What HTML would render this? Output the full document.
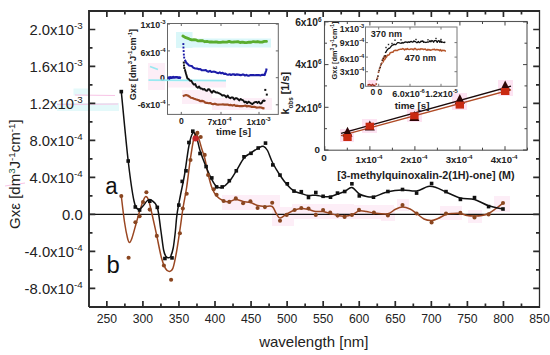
<!DOCTYPE html>
<html><head><meta charset="utf-8"><style>
html,body{margin:0;padding:0;background:#fff;}
svg{display:block;}
text{font-family:"Liberation Sans", sans-serif;}
</style></head><body>
<svg width="550" height="355" viewBox="0 0 550 355">
<rect x="0" y="0" width="550" height="355" fill="#fff"/>
<rect x="57" y="103" width="62" height="8" fill="#e4f9fa"/>
<rect x="73.5" y="88.5" width="15" height="7" fill="#e4f9fa"/>
<rect x="148" y="63" width="17" height="27" fill="#fdeef7"/>
<rect x="222" y="195" width="58" height="15" fill="#fdeef7"/>
<rect x="272" y="207" width="22" height="19" fill="#fdeef7"/>
<rect x="292" y="204" width="62" height="15" fill="#fdeef7"/>
<rect x="354" y="205" width="40" height="14" fill="#fdeef7"/>
<rect x="381" y="207" width="14" height="14" fill="#fdeef7"/>
<rect x="397" y="199" width="12" height="12" fill="#fdeef7"/>
<rect x="440" y="206" width="22" height="14" fill="#fdeef7"/>
<rect x="468" y="210" width="14" height="13" fill="#fdeef7"/>
<rect x="494" y="196" width="16" height="16" fill="#fdeef7"/>
<path d="M75,95 L115,95.5 M57,104.5 L118,104 M5,186 L25,183" stroke="#f8c4e6" stroke-width="1" fill="none"/>
<line x1="89.0" y1="214.4" x2="539.5" y2="214.4" stroke="#111" stroke-width="1.1"/>
<path d="M121.30,196.10 C121.83,200.42 123.47,215.02 124.50,222.00 C125.53,228.98 126.67,234.58 127.50,238.00 C128.33,241.42 128.75,242.50 129.50,242.50 C130.25,242.50 130.92,241.08 132.00,238.00 C133.08,234.92 134.67,228.67 136.00,224.00 C137.33,219.33 138.75,214.00 140.00,210.00 C141.25,206.00 142.53,202.25 143.50,200.00 C144.47,197.75 144.97,196.50 145.80,196.50 C146.63,196.50 147.47,197.08 148.50,200.00 C149.53,202.92 150.62,208.02 152.00,214.00 C153.38,219.98 155.22,228.57 156.80,235.90 C158.38,243.23 160.05,252.57 161.50,258.00 C162.95,263.43 164.18,266.27 165.50,268.50 C166.82,270.73 168.15,271.48 169.40,271.40 C170.65,271.32 171.82,271.23 173.00,268.00 C174.18,264.77 175.35,258.33 176.50,252.00 C177.65,245.67 178.82,237.33 179.90,230.00 C180.98,222.67 181.87,215.17 183.00,208.00 C184.13,200.83 185.45,195.33 186.70,187.00 C187.95,178.67 189.15,166.75 190.50,158.00 C191.85,149.25 193.47,137.83 194.80,134.50 C196.13,131.17 197.38,135.75 198.50,138.00 C199.62,140.25 200.47,144.67 201.50,148.00 C202.53,151.33 203.60,153.67 204.70,158.00 C205.80,162.33 206.88,169.00 208.10,174.00 C209.32,179.00 210.58,184.33 212.00,188.00 C213.42,191.67 214.67,193.83 216.60,196.00 C218.53,198.17 221.48,200.08 223.60,201.00 C225.72,201.92 227.27,201.75 229.30,201.50 C231.33,201.25 233.50,199.50 235.80,199.50 C238.10,199.50 240.67,201.00 243.10,201.50 C245.53,202.00 247.98,201.83 250.40,202.50 C252.82,203.17 255.18,204.83 257.60,205.50 C260.02,206.17 262.47,206.33 264.90,206.50 C267.33,206.67 270.35,205.42 272.20,206.50 C274.05,207.58 274.70,211.08 276.00,213.00 C277.30,214.92 278.22,217.83 280.00,218.00 C281.78,218.17 284.27,215.33 286.70,214.00 C289.13,212.67 292.17,210.92 294.60,210.00 C297.03,209.08 298.98,208.58 301.30,208.50 C303.62,208.42 306.08,209.00 308.50,209.50 C310.92,210.00 313.37,211.17 315.80,211.50 C318.23,211.83 320.70,211.17 323.10,211.50 C325.50,211.83 327.78,212.83 330.20,213.50 C332.62,214.17 335.20,215.05 337.60,215.50 C340.00,215.95 342.22,216.32 344.60,216.20 C346.98,216.08 349.50,215.67 351.90,214.80 C354.30,213.93 356.57,211.55 359.00,211.00 C361.43,210.45 364.02,211.17 366.50,211.50 C368.98,211.83 370.33,212.62 373.90,213.00 C377.47,213.38 384.38,214.38 387.90,213.80 C391.42,213.22 392.57,210.63 395.00,209.50 C397.43,208.37 400.00,207.08 402.50,207.00 C405.00,206.92 407.65,207.92 410.00,209.00 C412.35,210.08 414.27,211.83 416.60,213.50 C418.93,215.17 421.50,217.83 424.00,219.00 C426.50,220.17 429.27,220.58 431.60,220.50 C433.93,220.42 435.60,219.50 438.00,218.50 C440.40,217.50 443.50,215.33 446.00,214.50 C448.50,213.67 450.60,213.67 453.00,213.50 C455.40,213.33 458.07,213.17 460.40,213.50 C462.73,213.83 464.65,215.08 467.00,215.50 C469.35,215.92 472.00,216.00 474.50,216.00 C477.00,216.00 479.65,215.92 482.00,215.50 C484.35,215.08 486.27,214.67 488.60,213.50 C490.93,212.33 493.60,210.25 496.00,208.50 C498.40,206.75 501.83,203.92 503.00,203.00" fill="none" stroke="#9a4722" stroke-width="1.5"/>
<path d="M121.30,91.60 C122.45,103.17 126.08,142.77 128.20,161.00 C130.32,179.23 132.28,192.92 134.00,201.00 C135.72,209.08 137.00,208.67 138.50,209.50 C140.00,210.33 141.58,207.42 143.00,206.00 C144.42,204.58 145.67,202.03 147.00,201.00 C148.33,199.97 149.28,198.73 151.00,199.80 C152.72,200.87 155.67,202.37 157.30,207.40 C158.93,212.43 159.75,222.90 160.80,230.00 C161.85,237.10 162.73,245.58 163.60,250.00 C164.47,254.42 165.22,255.20 166.00,256.50 C166.78,257.80 167.53,257.80 168.30,257.80 C169.07,257.80 169.78,258.13 170.60,256.50 C171.42,254.87 172.42,252.08 173.20,248.00 C173.98,243.92 174.67,237.60 175.30,232.00 C175.93,226.40 176.13,220.57 177.00,214.40 C177.87,208.23 179.25,201.57 180.50,195.00 C181.75,188.43 183.10,183.17 184.50,175.00 C185.90,166.83 187.52,153.00 188.90,146.00 C190.28,139.00 191.53,134.50 192.80,133.00 C194.07,131.50 195.30,134.08 196.50,137.00 C197.70,139.92 198.40,145.50 200.00,150.50 C201.60,155.50 204.13,162.17 206.10,167.00 C208.07,171.83 210.05,176.25 211.80,179.50 C213.55,182.75 214.87,185.22 216.60,186.50 C218.33,187.78 220.08,188.03 222.20,187.20 C224.32,186.37 226.95,184.23 229.30,181.50 C231.65,178.77 233.85,174.72 236.30,170.80 C238.75,166.88 241.58,160.97 244.00,158.00 C246.42,155.03 248.47,154.62 250.80,153.00 C253.13,151.38 255.92,149.43 258.00,148.30 C260.08,147.17 261.72,145.83 263.30,146.20 C264.88,146.57 265.97,147.78 267.50,150.50 C269.03,153.22 270.45,158.42 272.50,162.50 C274.55,166.58 277.33,171.25 279.80,175.00 C282.27,178.75 284.93,182.33 287.30,185.00 C289.67,187.67 291.67,189.58 294.00,191.00 C296.33,192.42 298.88,192.75 301.30,193.50 C303.72,194.25 306.08,195.22 308.50,195.50 C310.92,195.78 313.37,195.03 315.80,195.20 C318.23,195.37 320.65,196.28 323.10,196.50 C325.55,196.72 328.10,196.92 330.50,196.50 C332.90,196.08 335.13,194.83 337.50,194.00 C339.87,193.17 342.30,192.58 344.70,191.50 C347.10,190.42 349.47,187.08 351.90,187.50 C354.33,187.92 356.87,192.50 359.30,194.00 C361.73,195.50 364.13,196.03 366.50,196.50 C368.87,196.97 369.93,197.58 373.50,196.80 C377.07,196.02 383.07,192.93 387.90,191.80 C392.73,190.67 397.72,190.13 402.50,190.00 C407.28,189.87 412.35,191.58 416.60,191.00 C420.85,190.42 424.77,187.08 428.00,186.50 C431.23,185.92 433.00,186.58 436.00,187.50 C439.00,188.42 441.93,190.25 446.00,192.00 C450.07,193.75 455.65,196.75 460.40,198.00 C465.15,199.25 469.80,198.20 474.50,199.50 C479.20,200.80 483.85,204.22 488.60,205.80 C493.35,207.38 500.60,208.47 503.00,209.00" fill="none" stroke="#111" stroke-width="1.5"/>
<ellipse cx="195.6" cy="138.6" rx="3.2" ry="3.0" fill="#c4262a"/>
<circle cx="121.3" cy="196.1" r="2.05" fill="#8a4620"/>
<circle cx="128.6" cy="257.7" r="2.05" fill="#8a4620"/>
<circle cx="135.4" cy="222.3" r="2.05" fill="#8a4620"/>
<circle cx="139.6" cy="216.3" r="2.05" fill="#8a4620"/>
<circle cx="143.0" cy="202.0" r="2.05" fill="#8a4620"/>
<circle cx="146.4" cy="192.2" r="2.05" fill="#8a4620"/>
<circle cx="149.7" cy="209.6" r="2.05" fill="#8a4620"/>
<circle cx="156.8" cy="235.9" r="2.05" fill="#8a4620"/>
<circle cx="163.9" cy="265.5" r="2.05" fill="#8a4620"/>
<circle cx="171.1" cy="279.8" r="2.05" fill="#8a4620"/>
<circle cx="179.9" cy="233.3" r="2.05" fill="#8a4620"/>
<circle cx="182.8" cy="208.5" r="2.05" fill="#8a4620"/>
<circle cx="186.7" cy="193.8" r="2.05" fill="#8a4620"/>
<circle cx="190.5" cy="160.0" r="2.05" fill="#8a4620"/>
<circle cx="197.4" cy="132.9" r="2.05" fill="#8a4620"/>
<circle cx="200.7" cy="137.0" r="2.05" fill="#8a4620"/>
<circle cx="204.7" cy="154.9" r="2.05" fill="#8a4620"/>
<circle cx="208.1" cy="175.0" r="2.05" fill="#8a4620"/>
<circle cx="213.7" cy="189.2" r="2.05" fill="#8a4620"/>
<circle cx="216.6" cy="194.8" r="2.05" fill="#8a4620"/>
<circle cx="223.6" cy="201.0" r="2.05" fill="#8a4620"/>
<circle cx="229.3" cy="201.9" r="2.05" fill="#8a4620"/>
<circle cx="235.8" cy="198.4" r="2.05" fill="#8a4620"/>
<circle cx="243.1" cy="203.3" r="2.05" fill="#8a4620"/>
<circle cx="250.4" cy="201.3" r="2.05" fill="#8a4620"/>
<circle cx="257.6" cy="208.0" r="2.05" fill="#8a4620"/>
<circle cx="264.9" cy="207.1" r="2.05" fill="#8a4620"/>
<circle cx="272.2" cy="202.7" r="2.05" fill="#8a4620"/>
<circle cx="280.0" cy="220.8" r="2.05" fill="#8a4620"/>
<circle cx="286.7" cy="214.9" r="2.05" fill="#8a4620"/>
<circle cx="294.6" cy="210.0" r="2.05" fill="#8a4620"/>
<circle cx="301.3" cy="208.0" r="2.05" fill="#8a4620"/>
<circle cx="308.5" cy="208.5" r="2.05" fill="#8a4620"/>
<circle cx="315.8" cy="214.9" r="2.05" fill="#8a4620"/>
<circle cx="323.1" cy="210.0" r="2.05" fill="#8a4620"/>
<circle cx="330.2" cy="212.5" r="2.05" fill="#8a4620"/>
<circle cx="337.6" cy="215.6" r="2.05" fill="#8a4620"/>
<circle cx="344.6" cy="216.9" r="2.05" fill="#8a4620"/>
<circle cx="351.9" cy="215.0" r="2.05" fill="#8a4620"/>
<circle cx="359.0" cy="209.9" r="2.05" fill="#8a4620"/>
<circle cx="373.9" cy="212.5" r="2.05" fill="#8a4620"/>
<circle cx="387.9" cy="215.4" r="2.05" fill="#8a4620"/>
<circle cx="402.5" cy="205.1" r="2.05" fill="#8a4620"/>
<circle cx="416.6" cy="213.5" r="2.05" fill="#8a4620"/>
<circle cx="431.6" cy="222.5" r="2.05" fill="#8a4620"/>
<circle cx="446.0" cy="213.5" r="2.05" fill="#8a4620"/>
<circle cx="460.4" cy="212.9" r="2.05" fill="#8a4620"/>
<circle cx="474.5" cy="217.4" r="2.05" fill="#8a4620"/>
<circle cx="488.6" cy="214.4" r="2.05" fill="#8a4620"/>
<circle cx="503.0" cy="203.0" r="2.05" fill="#8a4620"/>
<rect x="119.5" y="89.8" width="3.6" height="3.6" fill="#111"/>
<rect x="126.4" y="159.2" width="3.6" height="3.6" fill="#111"/>
<rect x="133.5" y="205.2" width="3.6" height="3.6" fill="#111"/>
<rect x="137.8" y="208.2" width="3.6" height="3.6" fill="#111"/>
<rect x="148.0" y="199.4" width="3.6" height="3.6" fill="#111"/>
<rect x="155.5" y="205.6" width="3.6" height="3.6" fill="#111"/>
<rect x="163.1" y="256.7" width="3.6" height="3.6" fill="#111"/>
<rect x="170.2" y="256.1" width="3.6" height="3.6" fill="#111"/>
<rect x="177.0" y="203.3" width="3.6" height="3.6" fill="#111"/>
<rect x="180.4" y="179.6" width="3.6" height="3.6" fill="#111"/>
<rect x="184.2" y="169.0" width="3.6" height="3.6" fill="#111"/>
<rect x="187.1" y="140.7" width="3.6" height="3.6" fill="#111"/>
<rect x="191.0" y="129.4" width="3.6" height="3.6" fill="#111"/>
<rect x="198.2" y="151.7" width="3.6" height="3.6" fill="#111"/>
<rect x="204.3" y="164.8" width="3.6" height="3.6" fill="#111"/>
<rect x="210.0" y="176.1" width="3.6" height="3.6" fill="#111"/>
<rect x="214.8" y="185.1" width="3.6" height="3.6" fill="#111"/>
<rect x="220.4" y="185.1" width="3.6" height="3.6" fill="#111"/>
<rect x="227.5" y="178.9" width="3.6" height="3.6" fill="#111"/>
<rect x="234.5" y="169.0" width="3.6" height="3.6" fill="#111"/>
<rect x="242.2" y="155.0" width="3.6" height="3.6" fill="#111"/>
<rect x="249.2" y="151.5" width="3.6" height="3.6" fill="#111"/>
<rect x="256.4" y="146.2" width="3.6" height="3.6" fill="#111"/>
<rect x="263.7" y="141.3" width="3.6" height="3.6" fill="#111"/>
<rect x="271.0" y="163.1" width="3.6" height="3.6" fill="#111"/>
<rect x="278.2" y="173.3" width="3.6" height="3.6" fill="#111"/>
<rect x="285.5" y="182.0" width="3.6" height="3.6" fill="#111"/>
<rect x="292.2" y="189.3" width="3.6" height="3.6" fill="#111"/>
<rect x="299.5" y="189.9" width="3.6" height="3.6" fill="#111"/>
<rect x="306.7" y="195.7" width="3.6" height="3.6" fill="#111"/>
<rect x="314.0" y="190.7" width="3.6" height="3.6" fill="#111"/>
<rect x="321.3" y="194.5" width="3.6" height="3.6" fill="#111"/>
<rect x="328.7" y="195.4" width="3.6" height="3.6" fill="#111"/>
<rect x="335.7" y="191.3" width="3.6" height="3.6" fill="#111"/>
<rect x="342.9" y="189.7" width="3.6" height="3.6" fill="#111"/>
<rect x="350.1" y="182.0" width="3.6" height="3.6" fill="#111"/>
<rect x="357.5" y="194.1" width="3.6" height="3.6" fill="#111"/>
<rect x="371.7" y="195.4" width="3.6" height="3.6" fill="#111"/>
<rect x="386.1" y="189.7" width="3.6" height="3.6" fill="#111"/>
<rect x="400.7" y="187.7" width="3.6" height="3.6" fill="#111"/>
<rect x="414.8" y="191.3" width="3.6" height="3.6" fill="#111"/>
<rect x="429.8" y="181.7" width="3.6" height="3.6" fill="#111"/>
<rect x="444.2" y="189.8" width="3.6" height="3.6" fill="#111"/>
<rect x="458.6" y="197.6" width="3.6" height="3.6" fill="#111"/>
<rect x="472.7" y="195.8" width="3.6" height="3.6" fill="#111"/>
<rect x="486.8" y="204.8" width="3.6" height="3.6" fill="#111"/>
<rect x="501.2" y="207.2" width="3.6" height="3.6" fill="#111"/>
<path d="M89.0,307.0 V11.0 H539.5" fill="none" stroke="#2a2a2a" stroke-width="1.9"/>
<path d="M89.0,307.0 H539.5" fill="none" stroke="#2a2a2a" stroke-width="1.8"/>
<path d="M539.5,10.1 V307.9" fill="none" stroke="#2a2a2a" stroke-width="1.3"/>
<path d="M106.85,307.0 v-6 M106.85,11.0 v6 M142.91,307.0 v-6 M142.91,11.0 v6 M178.96,307.0 v-6 M178.96,11.0 v6 M215.01,307.0 v-6 M215.01,11.0 v6 M251.07,307.0 v-6 M251.07,11.0 v6 M287.12,307.0 v-6 M287.12,11.0 v6 M323.18,307.0 v-6 M323.18,11.0 v6 M359.24,307.0 v-6 M359.24,11.0 v6 M395.29,307.0 v-6 M395.29,11.0 v6 M431.35,307.0 v-6 M431.35,11.0 v6 M467.40,307.0 v-6 M467.40,11.0 v6 M503.45,307.0 v-6 M503.45,11.0 v6 M124.88,307.0 v-3.5 M124.88,11.0 v3.5 M160.93,307.0 v-3.5 M160.93,11.0 v3.5 M196.99,307.0 v-3.5 M196.99,11.0 v3.5 M233.04,307.0 v-3.5 M233.04,11.0 v3.5 M269.10,307.0 v-3.5 M269.10,11.0 v3.5 M305.15,307.0 v-3.5 M305.15,11.0 v3.5 M341.21,307.0 v-3.5 M341.21,11.0 v3.5 M377.26,307.0 v-3.5 M377.26,11.0 v3.5 M413.32,307.0 v-3.5 M413.32,11.0 v3.5 M449.37,307.0 v-3.5 M449.37,11.0 v3.5 M485.43,307.0 v-3.5 M485.43,11.0 v3.5 M521.48,307.0 v-3.5 M521.48,11.0 v3.5 M89.0,288.37 h6.3 M539.5,288.37 h-6.3 M89.0,251.38 h6.3 M539.5,251.38 h-6.3 M89.0,214.40 h6.3 M539.5,214.40 h-6.3 M89.0,177.42 h6.3 M539.5,177.42 h-6.3 M89.0,140.43 h6.3 M539.5,140.43 h-6.3 M89.0,103.45 h6.3 M539.5,103.45 h-6.3 M89.0,66.46 h6.3 M539.5,66.46 h-6.3 M89.0,29.48 h6.3 M539.5,29.48 h-6.3 M89.0,269.88 h3.5 M539.5,269.88 h-3.5 M89.0,232.89 h3.5 M539.5,232.89 h-3.5 M89.0,195.91 h3.5 M539.5,195.91 h-3.5 M89.0,158.92 h3.5 M539.5,158.92 h-3.5 M89.0,121.94 h3.5 M539.5,121.94 h-3.5 M89.0,84.96 h3.5 M539.5,84.96 h-3.5 M89.0,47.97 h3.5 M539.5,47.97 h-3.5" stroke="#2a2a2a" stroke-width="1.7" fill="none"/>
<text x="82.7" y="35.3" text-anchor="end" font-size="14.8" fill="#222">2.0x10<tspan dy="-5.9" font-size="9.8">-3</tspan></text>
<text x="82.7" y="72.3" text-anchor="end" font-size="14.8" fill="#222">1.6x10<tspan dy="-5.9" font-size="9.8">-3</tspan></text>
<text x="82.7" y="109.2" text-anchor="end" font-size="14.8" fill="#222">1.2x10<tspan dy="-5.9" font-size="9.8">-3</tspan></text>
<text x="82.7" y="146.2" text-anchor="end" font-size="14.8" fill="#222">8.0x10<tspan dy="-5.9" font-size="9.8">-4</tspan></text>
<text x="82.7" y="183.2" text-anchor="end" font-size="14.8" fill="#222">4.0x10<tspan dy="-5.9" font-size="9.8">-4</tspan></text>
<text x="82.7" y="220.2" text-anchor="end" font-size="14.8" fill="#222">0.0</text>
<text x="82.7" y="257.2" text-anchor="end" font-size="14.8" fill="#222">-4.0x10<tspan dy="-5.9" font-size="9.8">-4</tspan></text>
<text x="82.7" y="294.2" text-anchor="end" font-size="14.8" fill="#222">-8.0x10<tspan dy="-5.9" font-size="9.8">-4</tspan></text>
<text transform="translate(106.8,323.1) scale(0.91,1)" text-anchor="middle" font-size="13.4" fill="#222">250</text>
<text transform="translate(142.9,323.1) scale(0.91,1)" text-anchor="middle" font-size="13.4" fill="#222">300</text>
<text transform="translate(179.0,323.1) scale(0.91,1)" text-anchor="middle" font-size="13.4" fill="#222">350</text>
<text transform="translate(215.0,323.1) scale(0.91,1)" text-anchor="middle" font-size="13.4" fill="#222">400</text>
<text transform="translate(251.1,323.1) scale(0.91,1)" text-anchor="middle" font-size="13.4" fill="#222">450</text>
<text transform="translate(287.1,323.1) scale(0.91,1)" text-anchor="middle" font-size="13.4" fill="#222">500</text>
<text transform="translate(323.2,323.1) scale(0.91,1)" text-anchor="middle" font-size="13.4" fill="#222">550</text>
<text transform="translate(359.2,323.1) scale(0.91,1)" text-anchor="middle" font-size="13.4" fill="#222">600</text>
<text transform="translate(395.3,323.1) scale(0.91,1)" text-anchor="middle" font-size="13.4" fill="#222">650</text>
<text transform="translate(431.3,323.1) scale(0.91,1)" text-anchor="middle" font-size="13.4" fill="#222">700</text>
<text transform="translate(467.4,323.1) scale(0.91,1)" text-anchor="middle" font-size="13.4" fill="#222">750</text>
<text transform="translate(503.5,323.1) scale(0.91,1)" text-anchor="middle" font-size="13.4" fill="#222">800</text>
<text transform="translate(539.5,323.1) scale(0.91,1)" text-anchor="middle" font-size="13.4" fill="#222">850</text>
<text x="313.8" y="346.9" text-anchor="middle" font-size="15" fill="#222">wavelength [nm]</text>
<text transform="translate(20.3,174.1) rotate(-90)" text-anchor="middle" font-size="15" fill="#222">Gx&#949; [dm<tspan dy="-5.7" font-size="9.8" fill="#1d5e44">3</tspan><tspan dy="5.7">J</tspan><tspan dy="-5.7" font-size="9.8">-1</tspan><tspan dy="5.7">cm</tspan><tspan dy="-5.7" font-size="9.8">-1</tspan><tspan dy="5.7">]</tspan></text>
<text transform="translate(105.2,193.6) scale(0.9,1)" font-size="24.6" fill="#111">a</text>
<text transform="translate(106.6,272.7) scale(0.97,1)" font-size="24.6" fill="#111">b</text>
<rect x="167.5" y="23.5" width="110.80000000000001" height="90.9" fill="#fff" stroke="#666" stroke-width="1"/>
<rect x="176" y="32" width="16.5" height="16" fill="#daf7f9"/>
<rect x="192" y="38.5" width="79" height="9" fill="#daf7f9"/>
<rect x="168" y="81.5" width="58" height="6" fill="#fdeef7"/>
<rect x="182" y="90" width="30" height="14" fill="#fdeef7"/>
<rect x="212" y="98" width="60" height="12" fill="#fdeef7"/>
<path d="M181.3,114.4 v-2.5 M181.3,23.5 v2.5 M221.0,114.4 v-2.5 M221.0,23.5 v2.5 M259.0,114.4 v-2.5 M259.0,23.5 v2.5 M167.5,24.1 h2.5 M278.3,24.1 h-2.5 M167.5,50.9 h2.5 M278.3,50.9 h-2.5 M167.5,77.7 h2.5 M278.3,77.7 h-2.5 M167.5,104.8 h2.5 M278.3,104.8 h-2.5" stroke="#666" stroke-width="1" fill="none"/>
<text x="165.5" y="27.9" text-anchor="end" font-size="8.8" font-weight="bold" fill="#222">1x10<tspan dy="-3.6" font-size="6.0">-3</tspan></text>
<text x="165.5" y="55.6" text-anchor="end" font-size="8.8" font-weight="bold" fill="#222">6x10<tspan dy="-3.6" font-size="6.0">-4</tspan></text>
<text x="165.0" y="80.5" text-anchor="end" font-size="8.8" font-weight="bold" fill="#222">0</text>
<text x="165.5" y="108.0" text-anchor="end" font-size="8.8" font-weight="bold" fill="#222">-6x10<tspan dy="-3.6" font-size="6.0">-4</tspan></text>
<text x="181.5" y="124.3" text-anchor="middle" font-size="8.6" font-weight="bold" fill="#222">0</text>
<text x="219.6" y="124.6" text-anchor="middle" font-size="8.5" font-weight="bold" fill="#222">7x10<tspan dy="-3.6" font-size="6.0">-4</tspan></text>
<text x="258.6" y="124.6" text-anchor="middle" font-size="8.5" font-weight="bold" fill="#222">1x10<tspan dy="-3.6" font-size="6.0">-3</tspan></text>
<text x="233.5" y="135.1" text-anchor="middle" font-size="9.8" font-weight="bold" fill="#222">time [s]</text>
<text transform="translate(135.6,64.6) rotate(-90)" text-anchor="middle" font-size="9.2" font-weight="bold" fill="#222">Gx&#949; [dm<tspan dy="-3.5" font-size="6">3</tspan><tspan dy="3.5">J</tspan><tspan dy="-3.5" font-size="6">-1</tspan><tspan dy="3.5">cm</tspan><tspan dy="-3.5" font-size="6">-1</tspan><tspan dy="3.5">]</tspan></text>
<path d="M150,66.5 L158,69.5 M148.5,80.2 L226,80.6" stroke="#8ee8f0" stroke-width="1.8" fill="none" opacity="0.9"/>
<path d="M182.90,36.04 L185.10,37.41 L187.30,38.10 L189.50,39.05 L191.70,39.80 L193.90,39.75 L196.10,39.91 L198.30,40.94 L200.50,40.58 L202.70,40.76 L204.90,41.73 L207.10,41.42 L209.30,41.99 L211.50,41.84 L213.70,42.21 L215.90,41.83 L218.10,42.25 L220.30,42.43 L222.50,42.02 L224.70,42.18 L226.90,42.05 L229.10,41.39 L231.30,42.10 L233.50,42.01 L235.70,41.79 L237.90,41.59 L240.10,42.50 L242.30,42.18 L244.50,42.50 L246.70,42.54 L248.90,42.20 L251.10,42.23 L253.30,41.53 L255.50,41.81 L257.70,41.52 L259.90,42.06 L262.10,42.06 L264.30,41.34 L266.50,41.44" fill="none" stroke="#5aad2e" stroke-width="2.8" stroke-linejoin="round" stroke-linecap="round"/>
<path d="M168.00,77.05 L169.30,78.24 L170.60,77.40 L171.90,77.70 L173.20,77.18 L174.50,77.51 L175.80,77.32 L177.10,77.26 L178.40,77.64 L179.70,77.63 L181.00,78.15" fill="none" stroke="#1c1ca8" stroke-width="2.6"/>
<path d="M184.80,59.72 L186.20,62.67 L187.60,63.91 L189.00,65.39 L190.40,65.81 L191.80,66.01 L193.20,67.60 L194.60,68.18 L196.00,68.57 L197.40,68.62 L198.80,69.26 L200.20,69.02 L201.60,70.12 L203.00,70.18 L204.40,70.18 L205.80,70.14 L207.20,71.32 L208.60,71.72 L210.00,70.87 L211.40,71.96 L212.80,71.73 L214.20,71.65 L215.60,72.05 L217.00,72.84 L218.40,73.19 L219.80,72.42 L221.20,73.33 L222.60,72.87 L224.00,73.90 L225.40,73.64 L226.80,74.45 L228.20,74.72 L229.60,74.29 L231.00,75.03 L232.40,74.35 L233.80,74.22 L235.20,75.00 L236.60,74.36 L238.00,74.59 L239.40,74.87 L240.80,75.14 L242.20,74.63 L243.60,74.52 L245.00,75.54 L246.40,74.90 L247.80,75.71 L249.20,75.66 L250.60,75.04 L252.00,75.10 L253.40,75.13 L254.80,75.24 L256.20,75.15 L257.60,75.07 L259.00,75.10 L260.40,75.45 L261.80,74.89 L263.20,74.77 L264.60,75.08 L266.20,70.50 L266.60,68.50" fill="none" stroke="#1c1ca8" stroke-width="2.1" stroke-linejoin="round"/>
<rect x="182.4" y="43.1" width="1.9" height="1.9" fill="#1c1ca8"/>
<rect x="182.5" y="46.6" width="1.9" height="1.9" fill="#1c1ca8"/>
<rect x="182.7" y="50.1" width="1.9" height="1.9" fill="#1c1ca8"/>
<rect x="182.9" y="53.6" width="1.9" height="1.9" fill="#1c1ca8"/>
<rect x="183.2" y="56.6" width="1.9" height="1.9" fill="#1c1ca8"/>
<path d="M184.80,69.21 L186.10,74.05 L187.40,78.36 L188.70,79.08 L190.00,80.78 L191.30,80.65 L192.60,83.11 L193.90,84.65 L195.20,84.01 L196.50,86.84 L197.80,87.79 L199.10,86.47 L200.40,88.58 L201.70,88.50 L203.00,89.54 L204.30,88.95 L205.60,90.40 L206.90,90.88 L208.20,89.12 L209.50,89.52 L210.80,91.59 L212.10,92.68 L213.40,90.77 L214.70,91.62 L216.00,92.59 L217.30,92.43 L218.60,93.22 L219.90,93.73 L221.20,94.56 L222.50,95.65 L223.80,95.15 L225.10,95.77 L226.40,97.34 L227.70,95.49 L229.00,97.46 L230.30,98.30 L231.60,97.35 L232.90,97.43 L234.20,99.50 L235.50,98.14 L236.80,98.30 L238.10,99.36 L239.40,100.46 L240.70,98.99 L242.00,99.97 L243.30,100.43 L244.60,102.37 L245.90,101.62 L247.20,103.30 L248.50,101.67 L249.80,102.51 L251.10,103.45 L252.40,104.15 L253.70,102.85 L255.00,102.18 L256.30,101.83 L257.60,102.91 L258.90,101.74 L260.20,103.45 L261.50,103.39 L262.80,100.99 L264.10,100.49 L265.40,101.28" fill="none" stroke="#111" stroke-width="1.9" stroke-linejoin="round"/>
<rect x="182.8" y="61.6" width="2" height="2" fill="#111"/>
<rect x="183.0" y="64.5" width="2" height="2" fill="#111"/>
<rect x="183.3" y="67.0" width="2" height="2" fill="#111"/>
<rect x="264.3" y="88.9" width="2" height="2" fill="#111"/>
<rect x="265.8" y="93.6" width="2" height="2" fill="#111"/>
<path d="M182.90,96.44 L184.50,95.44 L186.10,94.99 L187.70,95.50 L189.30,96.44 L190.90,97.74 L192.50,98.02 L194.10,98.68 L195.70,99.24 L197.30,99.73 L198.90,100.20 L200.50,101.20 L202.10,100.92 L203.70,101.25 L205.30,102.56 L206.90,102.80 L208.50,103.22 L210.10,102.98 L211.70,103.81 L213.30,104.10 L214.90,103.70 L216.50,104.36 L218.10,104.58 L219.70,104.52 L221.30,104.50 L222.90,104.40 L224.50,104.57 L226.10,104.58 L227.70,104.54 L229.30,105.16 L230.90,104.95 L232.50,105.56 L234.10,104.89 L235.70,105.84 L237.30,105.72 L238.90,106.04 L240.50,106.10 L242.10,106.20 L243.70,105.97 L245.30,105.55 L246.90,106.44 L248.50,106.03 L250.10,106.31 L251.70,106.84 L253.30,106.86 L254.90,106.90 L256.50,107.62 L258.10,107.48 L259.70,107.41 L261.30,107.51 L262.90,108.31 L264.50,108.12" fill="none" stroke="#9e4824" stroke-width="2.2" stroke-linejoin="round"/>
<rect x="324.5" y="21.5" width="202.5" height="128.7" fill="#fff" stroke="#555" stroke-width="1.1"/>
<rect x="340" y="129" width="14" height="13" fill="#fde3f2"/>
<rect x="362" y="119" width="15" height="14" fill="#fde3f2"/>
<rect x="407" y="109" width="15" height="13" fill="#fde3f2"/>
<rect x="452" y="93" width="15" height="17" fill="#fde3f2"/>
<rect x="498" y="80" width="15" height="16" fill="#fde3f2"/>
<path d="M324.8,150.2 v-4 M324.8,21.5 v4 M347.3,150.2 v-2.5 M347.3,21.5 v2.5 M369.9,150.2 v-4 M369.9,21.5 v4 M392.4,150.2 v-2.5 M392.4,21.5 v2.5 M414.9,150.2 v-4 M414.9,21.5 v4 M437.4,150.2 v-2.5 M437.4,21.5 v2.5 M459.9,150.2 v-4 M459.9,21.5 v4 M482.5,150.2 v-2.5 M482.5,21.5 v2.5 M505.0,150.2 v-4 M505.0,21.5 v4 M527.5,150.2 v-2.5 M527.5,21.5 v2.5 M324.5,150.0 h4 M527.0,150.0 h-4 M324.5,107.3 h4 M527.0,107.3 h-4 M324.5,64.6 h4 M527.0,64.6 h-4 M324.5,21.9 h4 M527.0,21.9 h-4 M324.5,128.7 h2.5 M527.0,128.7 h-2.5 M324.5,85.9 h2.5 M527.0,85.9 h-2.5 M324.5,43.2 h2.5 M527.0,43.2 h-2.5" stroke="#444" stroke-width="1" fill="none"/>
<text x="321.5" y="26.1" text-anchor="end" font-size="10.2" font-weight="bold" fill="#222">6x10<tspan dy="-4.2" font-size="6.5">6</tspan></text>
<text x="321.5" y="68.1" text-anchor="end" font-size="10.2" font-weight="bold" fill="#222">4x10<tspan dy="-4.2" font-size="6.5">6</tspan></text>
<text x="321.5" y="111.8" text-anchor="end" font-size="10.2" font-weight="bold" fill="#222">2x10<tspan dy="-4.2" font-size="6.5">6</tspan></text>
<text x="320.0" y="152.8" text-anchor="end" font-size="9.8" font-weight="bold" fill="#222">0</text>
<text x="323.9" y="160.6" text-anchor="middle" font-size="9.8" font-weight="bold" fill="#222">0</text>
<text x="369.0" y="162.7" text-anchor="middle" font-size="9.6" font-weight="bold" fill="#222">1x10<tspan dy="-4.0" font-size="6.2">-4</tspan></text>
<text x="414.0" y="162.7" text-anchor="middle" font-size="9.6" font-weight="bold" fill="#222">2x10<tspan dy="-4.0" font-size="6.2">-4</tspan></text>
<text x="459.1" y="162.7" text-anchor="middle" font-size="9.6" font-weight="bold" fill="#222">3x10<tspan dy="-4.0" font-size="6.2">-4</tspan></text>
<text x="504.1" y="162.7" text-anchor="middle" font-size="9.6" font-weight="bold" fill="#222">4x10<tspan dy="-4.0" font-size="6.2">-4</tspan></text>
<text x="425.9" y="178.6" text-anchor="middle" font-size="10.75" font-weight="bold" fill="#222">[3-methylquinoxalin-2(1H)-one] (M)</text>
<text transform="translate(289.4,114.6) rotate(-90)" text-anchor="start" font-size="10.9" font-weight="bold" fill="#222">k<tspan dy="3.6" font-size="6.3">obs</tspan><tspan dy="-3.6"> [1/s]</tspan></text>
<line x1="341" y1="135.6" x2="511" y2="89.8" stroke="#b04a25" stroke-width="1.4"/>
<line x1="341" y1="133.4" x2="511" y2="86.2" stroke="#1a0a0a" stroke-width="1.4"/>
<path d="M342.5,136.8 L347.5,126.8 L352.5,136.8 Z" fill="#2e0606"/>
<path d="M364.8,130.5 L369.8,120.5 L374.8,130.5 Z" fill="#2e0606"/>
<path d="M409.4,121.0 L414.4,111.0 L419.4,121.0 Z" fill="#2e0606"/>
<path d="M454.8,104.1 L459.8,94.1 L464.8,104.1 Z" fill="#2e0606"/>
<path d="M500.2,90.5 L505.2,80.5 L510.2,90.5 Z" fill="#2e0606"/>
<rect x="343.3" y="134.0" width="8.4" height="7" fill="#c92a12"/>
<rect x="365.6" y="122.7" width="8.4" height="7" fill="#c92a12"/>
<rect x="410.2" y="112.3" width="8.4" height="7" fill="#c92a12"/>
<rect x="455.6" y="101.6" width="8.4" height="7" fill="#c92a12"/>
<rect x="501.0" y="88.0" width="8.4" height="7" fill="#c92a12"/>
<rect x="365.5" y="27.0" width="91.5" height="59.3" fill="#fff" stroke="#777" stroke-width="1"/>
<path d="M365.5,71.7 h2.5 M457.0,71.7 h-2.5 M365.5,57.1 h2.5 M457.0,57.1 h-2.5 M365.5,42.6 h2.5 M457.0,42.6 h-2.5 M378.7,86.3 v-2.5 M378.7,27.0 v2.5 M410.0,86.3 v-2.5 M410.0,27.0 v2.5 M441.0,86.3 v-2.5 M441.0,27.0 v2.5" stroke="#777" stroke-width="1" fill="none"/>
<text x="364.3" y="31.6" text-anchor="end" font-size="8.7" font-weight="bold" fill="#222">1x10<tspan dy="-3.8" font-size="5.8">-3</tspan></text>
<text x="364.3" y="46.1" text-anchor="end" font-size="8.7" font-weight="bold" fill="#222">9x10<tspan dy="-3.8" font-size="5.8">-4</tspan></text>
<text x="364.3" y="61.6" text-anchor="end" font-size="8.7" font-weight="bold" fill="#222">6x10<tspan dy="-3.8" font-size="5.8">-4</tspan></text>
<text x="364.3" y="75.2" text-anchor="end" font-size="8.7" font-weight="bold" fill="#222">3x10<tspan dy="-3.8" font-size="5.8">-4</tspan></text>
<text x="364.4" y="89.2" text-anchor="end" font-size="8.4" font-weight="bold" fill="#222">0</text>
<text x="373.0" y="94.9" text-anchor="middle" font-size="8.6" font-weight="bold" fill="#222">0</text>
<text x="380.0" y="94.9" text-anchor="middle" font-size="8.6" font-weight="bold" fill="#222">0</text>
<text x="408.5" y="97.0" text-anchor="middle" font-size="9.0" font-weight="bold" fill="#222">6.0x10<tspan dy="-3.8" font-size="5.8">-6</tspan></text>
<text x="441.5" y="97.0" text-anchor="middle" font-size="9.0" font-weight="bold" fill="#222">1.2x10<tspan dy="-3.8" font-size="5.8">-5</tspan></text>
<text x="412.1" y="109.2" text-anchor="middle" font-size="9.8" font-weight="bold" fill="#222">time [s]</text>
<text transform="translate(337.2,50.5) rotate(-90)" text-anchor="middle" font-size="7.4" font-weight="bold" fill="#222">Gx&#949; [dm<tspan dy="-2.8" font-size="5">3</tspan><tspan dy="2.8">J</tspan><tspan dy="-2.8" font-size="5">-1</tspan><tspan dy="2.8">cm</tspan><tspan dy="-2.8" font-size="5">-1</tspan><tspan dy="2.8">]</tspan></text>
<text x="370.8" y="37.0" font-size="9.1" font-weight="bold" fill="#222">370 nm</text>
<text x="404.8" y="61.0" font-size="9.1" font-weight="bold" fill="#222">470 nm</text>
<rect x="367.5" y="80" width="9" height="6" fill="#ffe0ee"/>
<path d="M367.50,85.40 L368.50,84.79 L369.50,84.58 L370.50,85.05 L371.50,85.44 L372.50,84.54 L373.50,85.41 L374.50,85.59 L375.50,85.43" fill="none" stroke="#9a3020" stroke-width="1.5"/>
<rect x="375.50" y="83.23" width="1.6" height="1.6" fill="#a04a28"/>
<rect x="376.05" y="78.73" width="1.6" height="1.6" fill="#3a1a10"/>
<rect x="376.60" y="77.31" width="1.6" height="1.6" fill="#a04a28"/>
<rect x="377.15" y="75.32" width="1.6" height="1.6" fill="#3a1a10"/>
<rect x="377.70" y="71.42" width="1.6" height="1.6" fill="#a04a28"/>
<rect x="378.25" y="69.76" width="1.6" height="1.6" fill="#3a1a10"/>
<rect x="378.80" y="67.80" width="1.6" height="1.6" fill="#a04a28"/>
<rect x="379.35" y="66.52" width="1.6" height="1.6" fill="#3a1a10"/>
<rect x="379.90" y="64.64" width="1.6" height="1.6" fill="#a04a28"/>
<rect x="380.45" y="63.19" width="1.6" height="1.6" fill="#3a1a10"/>
<rect x="381.00" y="62.37" width="1.6" height="1.6" fill="#a04a28"/>
<rect x="381.55" y="59.50" width="1.6" height="1.6" fill="#3a1a10"/>
<rect x="382.10" y="58.38" width="1.6" height="1.6" fill="#a04a28"/>
<rect x="382.65" y="57.39" width="1.6" height="1.6" fill="#3a1a10"/>
<rect x="383.20" y="56.34" width="1.6" height="1.6" fill="#a04a28"/>
<rect x="383.75" y="55.26" width="1.6" height="1.6" fill="#3a1a10"/>
<rect x="384.30" y="56.18" width="1.6" height="1.6" fill="#a04a28"/>
<rect x="384.85" y="55.11" width="1.6" height="1.6" fill="#3a1a10"/>
<path d="M383.00,62.60 L383.90,59.74 L384.80,59.47 L385.70,57.78 L386.60,56.99 L387.50,55.02 L388.40,55.17 L389.30,54.70 L390.20,52.62 L391.10,52.44 L392.00,52.29 L392.90,52.24 L393.80,50.89 L394.70,50.43 L395.60,50.22 L396.50,50.52 L397.40,50.49 L398.30,49.69 L399.20,49.46 L400.10,49.33 L401.00,49.15 L401.90,49.17 L402.80,48.56 L403.70,49.17 L404.60,49.88 L405.50,48.95 L406.40,49.46 L407.30,48.50 L408.20,49.34 L409.10,49.44 L410.00,49.31 L410.90,49.06 L411.80,49.02 L412.70,49.29 L413.60,49.71 L414.50,48.54 L415.40,48.48 L416.30,49.55 L417.20,49.85 L418.10,49.24 L419.00,49.15 L419.90,49.63 L420.80,48.81 L421.70,48.98 L422.60,48.91 L423.50,49.56 L424.40,49.17 L425.30,49.08 L426.20,49.85 L427.10,50.31 L428.00,49.30 L428.90,50.00 L429.80,49.57 L430.70,50.32 L431.60,49.93 L432.50,49.47 L433.40,49.43 L434.30,49.16 L435.20,49.94 L436.10,49.83 L437.00,49.53 L437.90,49.88 L438.80,49.86 L439.70,50.63 L440.60,49.66 L441.50,51.07 L442.40,50.29 L443.30,50.53 L444.20,50.36 L445.10,50.99 L446.00,51.02" fill="none" stroke="#b5552a" stroke-width="1.5" stroke-linejoin="round"/>
<path d="M385.00,52.72 L385.90,52.18 L386.80,50.49 L387.70,49.37 L388.60,48.46 L389.50,48.25 L390.40,47.35 L391.30,46.18 L392.20,45.22 L393.10,45.00 L394.00,44.10 L394.90,44.65 L395.80,44.65 L396.70,43.60 L397.60,42.66 L398.50,42.64 L399.40,42.86 L400.30,43.18 L401.20,43.41 L402.10,42.38 L403.00,43.18 L403.90,42.68 L404.80,42.16 L405.70,41.94 L406.60,42.14 L407.50,42.53 L408.40,41.85 L409.30,42.40 L410.20,41.84 L411.10,41.33 L412.00,41.93 L412.90,42.25 L413.80,40.85 L414.70,41.61 L415.60,41.59 L416.50,42.57 L417.40,42.68 L418.30,41.43 L419.20,42.57 L420.10,42.32 L421.00,41.15 L421.90,41.58 L422.80,40.83 L423.70,42.34 L424.60,42.00 L425.50,42.49 L426.40,42.28 L427.30,42.00 L428.20,42.14 L429.10,41.76 L430.00,40.75 L430.90,41.81 L431.80,40.53 L432.70,40.83 L433.60,42.22 L434.50,40.61 L435.40,40.71 L436.30,40.73 L437.20,42.44 L438.10,40.90 L439.00,40.56 L439.90,42.36 L440.80,40.77 L441.70,42.36 L442.60,41.98 L443.50,42.34 L444.40,42.60 L445.30,41.78" fill="none" stroke="#111" stroke-width="1.3" stroke-linejoin="round"/>
<rect x="385.3" y="46.8" width="1.4" height="1.4" fill="#222"/>
<rect x="387.8" y="43.8" width="1.4" height="1.4" fill="#222"/>
<rect x="391.3" y="42.8" width="1.4" height="1.4" fill="#222"/>
<rect x="394.3" y="39.5" width="1.4" height="1.4" fill="#222"/>
<rect x="400.3" y="39.099999999999994" width="1.4" height="1.4" fill="#222"/>
<rect x="415.3" y="38.8" width="1.4" height="1.4" fill="#222"/>
<rect x="427.3" y="39.099999999999994" width="1.4" height="1.4" fill="#222"/>
<rect x="435.3" y="37.8" width="1.4" height="1.4" fill="#222"/>
<rect x="440.3" y="38.8" width="1.4" height="1.4" fill="#222"/>
</svg>
</body></html>
